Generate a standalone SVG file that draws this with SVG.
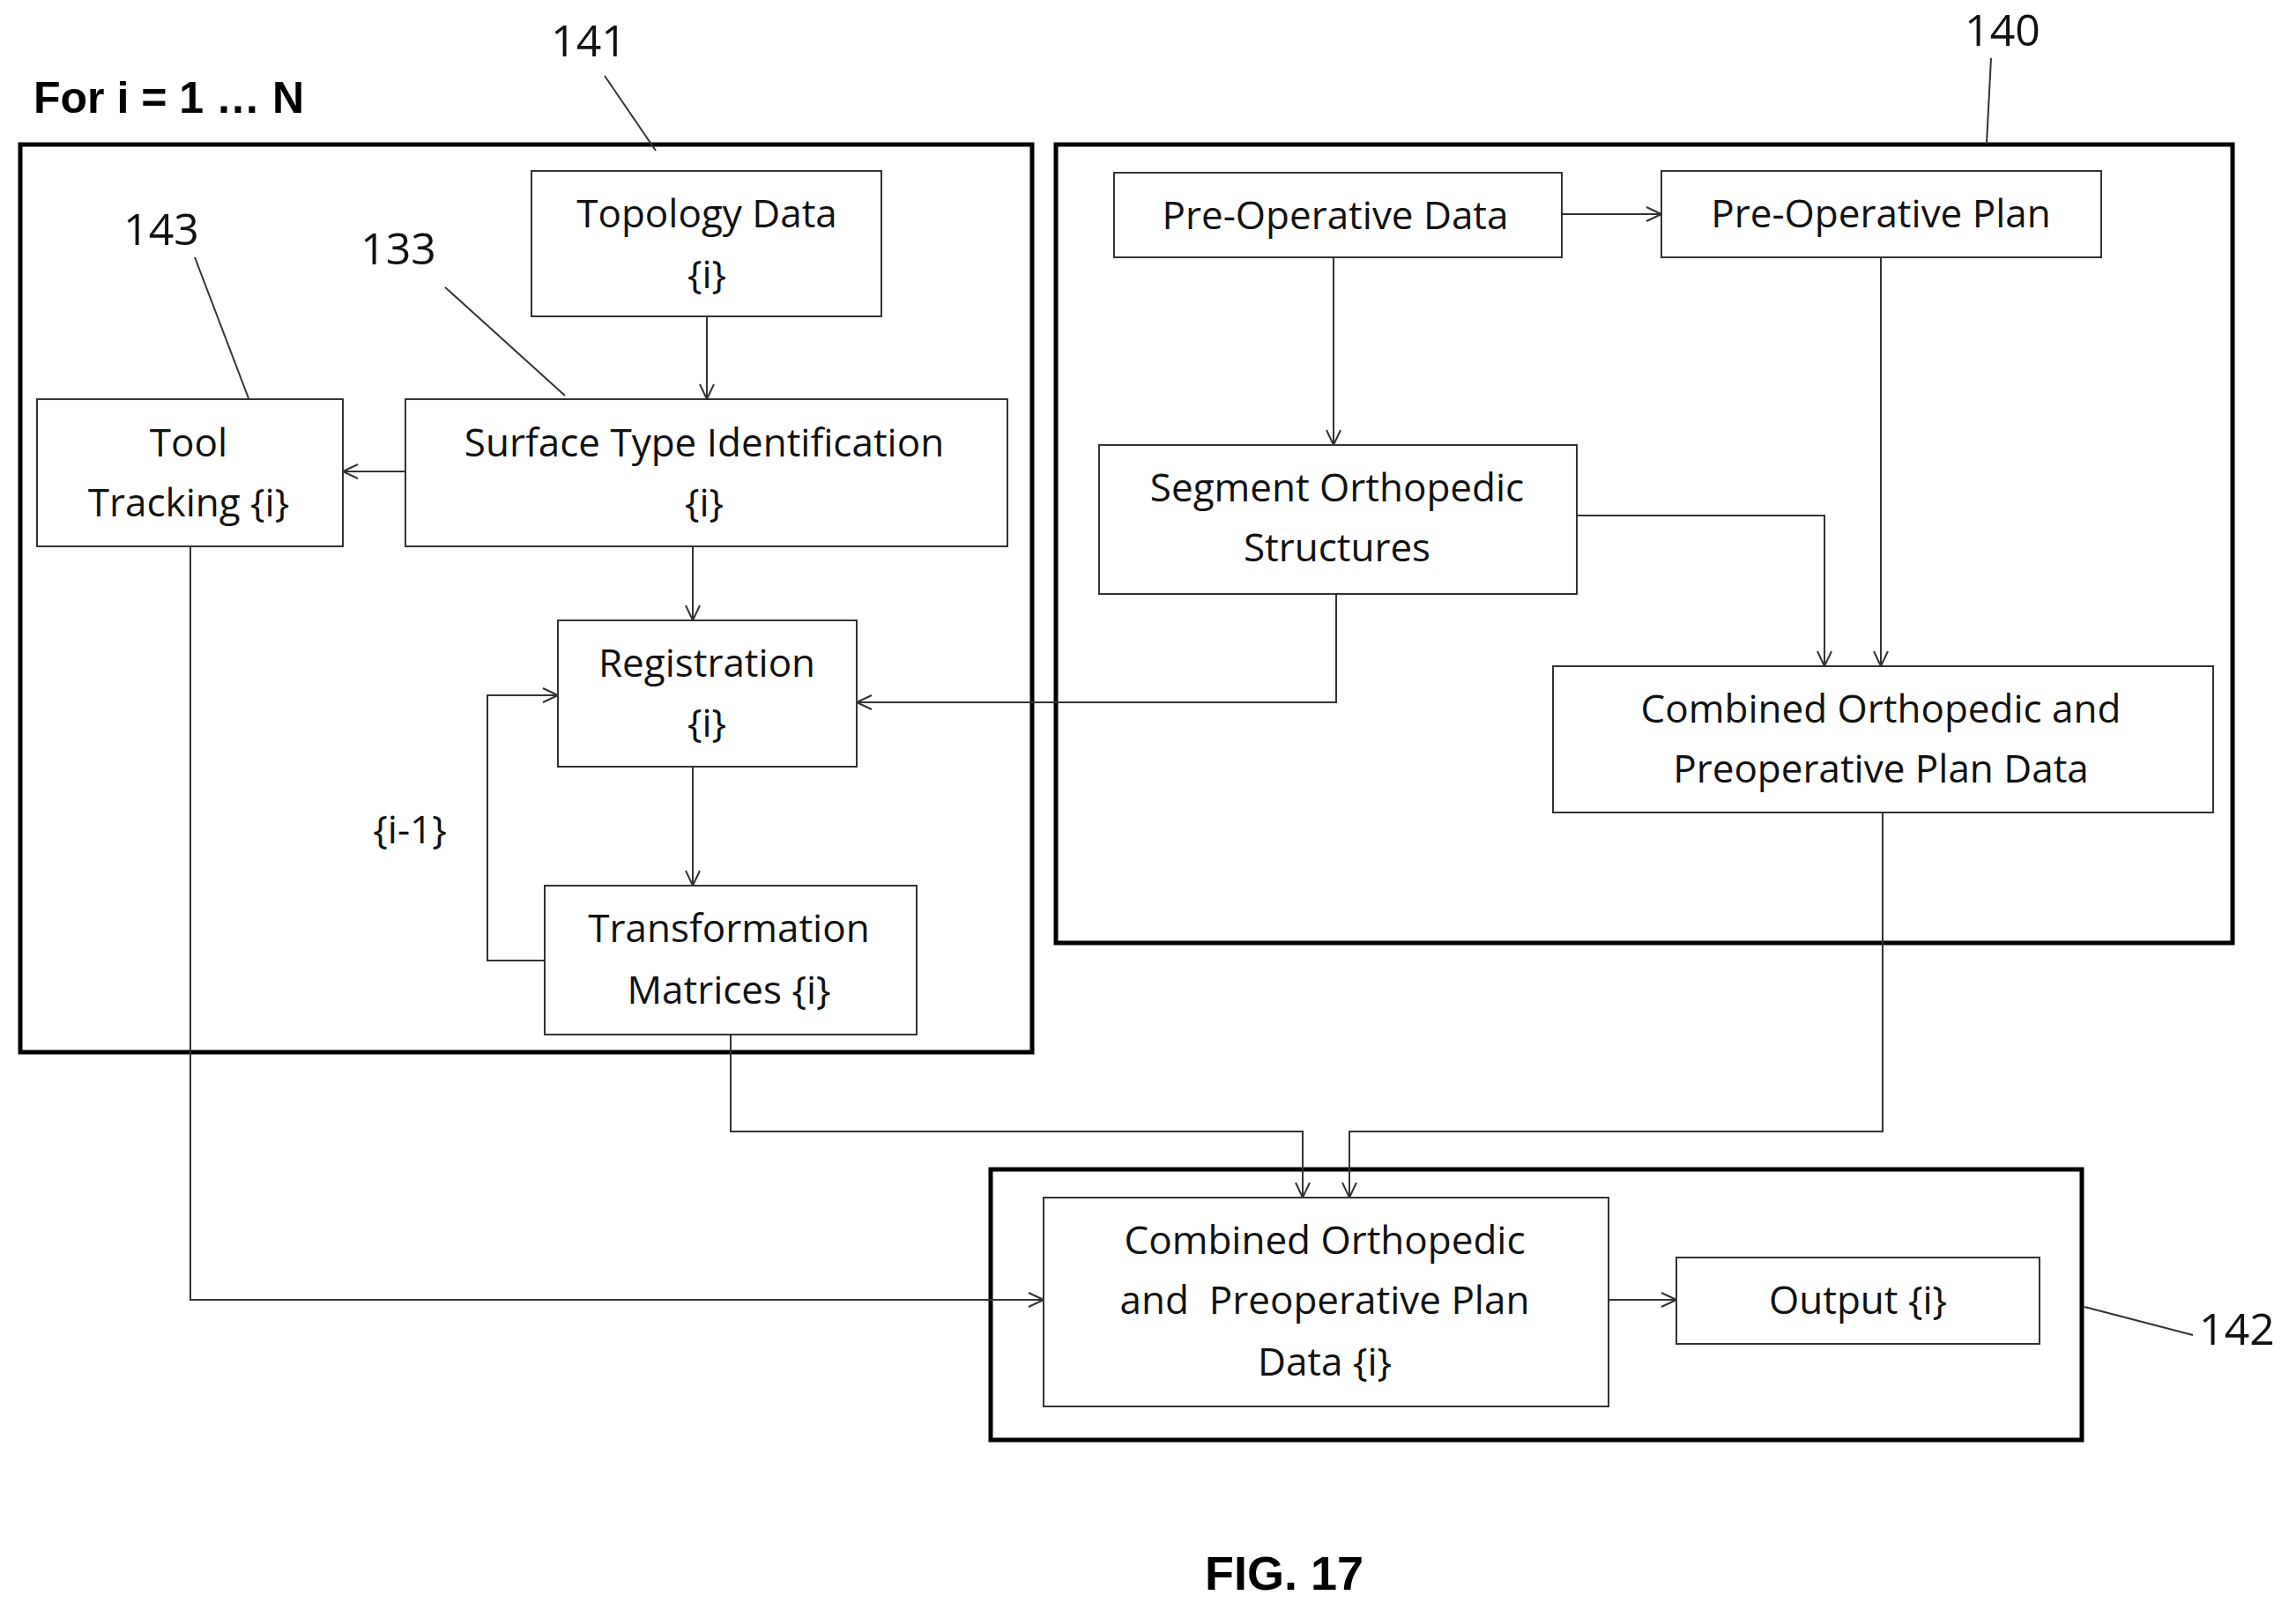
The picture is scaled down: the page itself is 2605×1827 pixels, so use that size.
<svg xmlns="http://www.w3.org/2000/svg" width="2605" height="1827" viewBox="0 0 2605 1827">
<style>
.frame{fill:none;stroke:#000;stroke-width:5}
.box{fill:#fff;stroke:#333;stroke-width:2}
.t{font-family:"Open Sans","Liberation Sans",sans-serif;font-size:44px;text-anchor:middle;fill:#111}
.n{font-family:"Open Sans","Liberation Sans",sans-serif;font-size:50px;text-anchor:middle;fill:#111}
.c{fill:none;stroke:#333;stroke-width:2;marker-end:url(#a)}
.l{fill:none;stroke:#333;stroke-width:2}
</style>
<defs><marker id="a" viewBox="0 0 20 20" refX="19" refY="10" markerWidth="20" markerHeight="20" markerUnits="userSpaceOnUse" orient="auto"><path d="M2,2 L19,10 L2,18" fill="none" stroke="#333" stroke-width="2"/></marker></defs>
<rect width="2605" height="1827" fill="#fff"/>
<g id="frames">
<rect class="frame" x="23" y="164" width="1148" height="1030"/>
<rect class="frame" x="1198" y="164" width="1335" height="906"/>
<rect class="frame" x="1124" y="1327" width="1238" height="307"/>
</g>
<g id="labels">
<text x="38" y="128" font-family="Liberation Sans,sans-serif" font-weight="bold" font-size="50">For i = 1 … N</text>
<text class="n" x="668" y="64">141</text><line class="l" x1="686" y1="86" x2="744" y2="171"/>
<text class="n" x="2272" y="52">140</text><line class="l" x1="2259" y1="66" x2="2254" y2="163"/>
<text class="n" x="183" y="278">143</text><line class="l" x1="221" y1="292" x2="282" y2="452"/>
<text class="n" x="452" y="300">133</text><line class="l" x1="505" y1="326" x2="641" y2="449"/>
<text class="n" x="2538" y="1526">142</text><line class="l" x1="2365" y1="1483" x2="2488" y2="1515"/>
<text class="t" x="465" y="957">{i-1}</text>
<text x="1457" y="1804" font-family="Liberation Sans,sans-serif" font-weight="bold" font-size="54" text-anchor="middle">FIG. 17</text>
</g>
<g id="connectors">
<line class="c" x1="802" y1="359" x2="802" y2="453"/>
<line class="c" x1="460" y1="535" x2="389" y2="535"/>
<line class="c" x1="786" y1="620" x2="786" y2="704"/>
<line class="c" x1="786" y1="870" x2="786" y2="1005"/>
<polyline class="c" points="618,1090 553,1090 553,789 633,789"/>
<polyline class="c" points="1516,674 1516,797 972,797"/>
<line class="c" x1="1772" y1="243" x2="1885" y2="243"/>
<line class="c" x1="1513" y1="292" x2="1513" y2="505"/>
<polyline class="c" points="1789,585 2070,585 2070,756"/>
<line class="c" x1="2134" y1="292" x2="2134" y2="756"/>
<polyline class="c" points="216,620 216,1475 1184,1475"/>
<polyline class="c" points="829,1174 829,1284 1478,1284 1478,1359"/>
<polyline class="c" points="2136,922 2136,1284 1531,1284 1531,1359"/>
<line class="c" x1="1825" y1="1475" x2="1902" y2="1475"/>
</g>
<g id="topology"><rect class="box" x="603" y="194" width="397" height="165"/><text class="t" x="802" y="258">Topology Data</text><text class="t" x="802" y="327">{i}</text></g>
<g id="surface"><rect class="box" x="460" y="453" width="683" height="167"/><text class="t" x="799" y="518">Surface Type Identification</text><text class="t" x="799" y="586">{i}</text></g>
<g id="tool"><rect class="box" x="42" y="453" width="347" height="167"/><text class="t" x="214" y="518">Tool</text><text class="t" x="214" y="586">Tracking {i}</text></g>
<g id="registration"><rect class="box" x="633" y="704" width="339" height="166"/><text class="t" x="802" y="768">Registration</text><text class="t" x="802" y="836">{i}</text></g>
<g id="transformation"><rect class="box" x="618" y="1005" width="422" height="169"/><text class="t" x="827" y="1069">Transformation</text><text class="t" x="827" y="1139">Matrices {i}</text></g>
<g id="preopdata"><rect class="box" x="1264" y="196" width="508" height="96"/><text class="t" x="1515" y="260">Pre-Operative Data</text></g>
<g id="preopplan"><rect class="box" x="1885" y="194" width="499" height="98"/><text class="t" x="2134" y="258">Pre-Operative Plan</text></g>
<g id="segment"><rect class="box" x="1247" y="505" width="542" height="169"/><text class="t" x="1517" y="569">Segment Orthopedic</text><text class="t" x="1517" y="637">Structures</text></g>
<g id="combined"><rect class="box" x="1762" y="756" width="749" height="166"/><text class="t" x="2134" y="820">Combined Orthopedic and</text><text class="t" x="2134" y="888">Preoperative Plan Data</text></g>
<g id="combined-i"><rect class="box" x="1184" y="1359" width="641" height="237"/><text class="t" x="1503" y="1423">Combined Orthopedic</text><text class="t" x="1503" y="1491" xml:space="preserve">and  Preoperative Plan</text><text class="t" x="1503" y="1561">Data {i}</text></g>
<g id="output"><rect class="box" x="1902" y="1427" width="412" height="98"/><text class="t" x="2108" y="1491">Output {i}</text></g>
</svg>
